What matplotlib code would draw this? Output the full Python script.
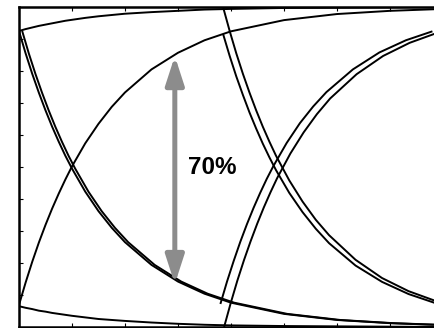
import matplotlib
matplotlib.use("Agg")
import matplotlib.pyplot as plt
from matplotlib.patches import FancyArrowPatch

# ---- data (time in tick units, level 0..1) ----
t1 = [0, 0.125, 0.25, 0.375, 0.5, 0.625, 0.75, 0.875, 1.0, 1.25, 1.5, 1.75, 2.0,
      2.5, 3.0, 3.5, 4.0, 5.0, 6.0, 7.0, 8.0]
rise1 = [0.069, 0.139, 0.204, 0.264, 0.319, 0.370, 0.417, 0.461, 0.502, 0.574, 0.635,
         0.688, 0.733, 0.805, 0.857, 0.896, 0.924, 0.959, 0.978, 0.988, 0.994]
fall1 = [0.925, 0.855, 0.791, 0.732, 0.677, 0.626, 0.579, 0.535, 0.495, 0.423, 0.362,
         0.310, 0.265, 0.194, 0.142, 0.104, 0.076, 0.041, 0.022, 0.012, 0.006]
t1b = [0.06, 0.185, 0.31, 0.435, 0.56, 0.685, 0.81, 0.935, 1.06, 1.31, 1.56, 1.81, 2.06,
       2.56, 3.06, 3.56, 4.06, 5.06, 6.06, 7.06, 8.06]
high1 = [0.925, 0.931, 0.936, 0.941, 0.945, 0.949, 0.953, 0.957, 0.960, 0.966, 0.971,
         0.975, 0.979, 0.984, 0.988, 0.992, 0.994, 0.997, 0.998, 0.999, 1.0]
low1 = [0.065, 0.060, 0.056, 0.051, 0.048, 0.044, 0.041, 0.038, 0.035, 0.030, 0.025,
        0.022, 0.019, 0.014, 0.010, 0.007, 0.005, 0.003, 0.002, 0.001, 0.0]

t2f = [3.85, 3.975, 4.10, 4.225, 4.35, 4.475, 4.60, 4.725, 4.85, 5.10, 5.35, 5.60, 5.85,
       6.35, 6.85, 7.35, 7.85]
fall2a = [1.000, 0.925, 0.855, 0.791, 0.732, 0.677, 0.626, 0.579, 0.535, 0.458, 0.392,
          0.335, 0.287, 0.210, 0.153, 0.112, 0.082]
fall2b = [0.916, 0.847, 0.783, 0.725, 0.670, 0.620, 0.573, 0.530, 0.490, 0.419, 0.359,
          0.307, 0.262, 0.192, 0.141, 0.103, 0.075]

t2ra = [3.87, 3.995, 4.12, 4.245, 4.37, 4.495, 4.62, 4.745, 4.87, 5.12, 5.37, 5.62, 5.87,
        6.37, 6.87, 7.37, 7.87]
rise2a = [0.0, 0.075, 0.145, 0.209, 0.268, 0.323, 0.374, 0.421, 0.465, 0.542, 0.608,
          0.665, 0.714, 0.790, 0.847, 0.888, 0.918]
t2rb = [3.80, 3.925, 4.05, 4.175, 4.30, 4.425, 4.55, 4.675, 4.80, 5.05, 5.30, 5.55, 5.80,
        6.30, 6.80, 7.30, 7.80]
rise2b = [0.072, 0.142, 0.206, 0.266, 0.321, 0.372, 0.419, 0.463, 0.503, 0.575, 0.637,
          0.689, 0.734, 0.805, 0.858, 0.896, 0.924]

arrow_x = 2.94
arrow_top = 0.847
arrow_bottom = 0.134
label_text = "70%"

xticks = [0, 1, 2, 3, 4, 5, 6, 7, 8]
yticks = [0.1, 0.2, 0.3, 0.4, 0.5, 0.6, 0.7, 0.8, 0.9]

# ---- figure ----
W, H = 434, 328
fig = plt.figure(figsize=(W / 100, H / 100), dpi=100)
ax = fig.add_axes([19 / W, 1 / H, 424 / W, 320 / H])
ax.set_xlim(0, 8)
ax.set_ylim(0, 1)

lw = 1.4
kw = dict(color="black", lw=lw, solid_capstyle="butt", solid_joinstyle="round")
ax.plot(t1, high1, **kw)
ax.plot(t1, low1, **kw)
ax.plot(t1, rise1, **kw)
ax.plot(t1, fall1, **kw)
ax.plot(t1b, fall1, **kw)
ax.plot(t2f, fall2a, **kw)
ax.plot(t2f, fall2b, **kw)
ax.plot(t2ra, rise2a, **kw)
ax.plot(t2rb, rise2b, **kw)

arr = FancyArrowPatch((arrow_x, arrow_bottom), (arrow_x, arrow_top),
                      arrowstyle="<|-|>,head_length=1.7,head_width=0.55",
                      mutation_scale=10, lw=3.6, color="#8c8c8c",
                      shrinkA=0, shrinkB=0, zorder=3)
ax.add_patch(arr)
ax.text(3.19, 0.50, label_text, ha="left", va="center",
        fontsize=17.5, fontweight="bold", family=["Liberation Sans", "DejaVu Sans"])

ax.set_xticks(xticks)
ax.set_yticks(yticks)
ax.set_xticklabels([])
ax.set_yticklabels([])
ax.tick_params(direction="in", length=3, width=0.8, top=True, right=True,
               bottom=True, left=True)
for s in ax.spines.values():
    s.set_linewidth(1.8)

fig.savefig("out.png", dpi=100)
